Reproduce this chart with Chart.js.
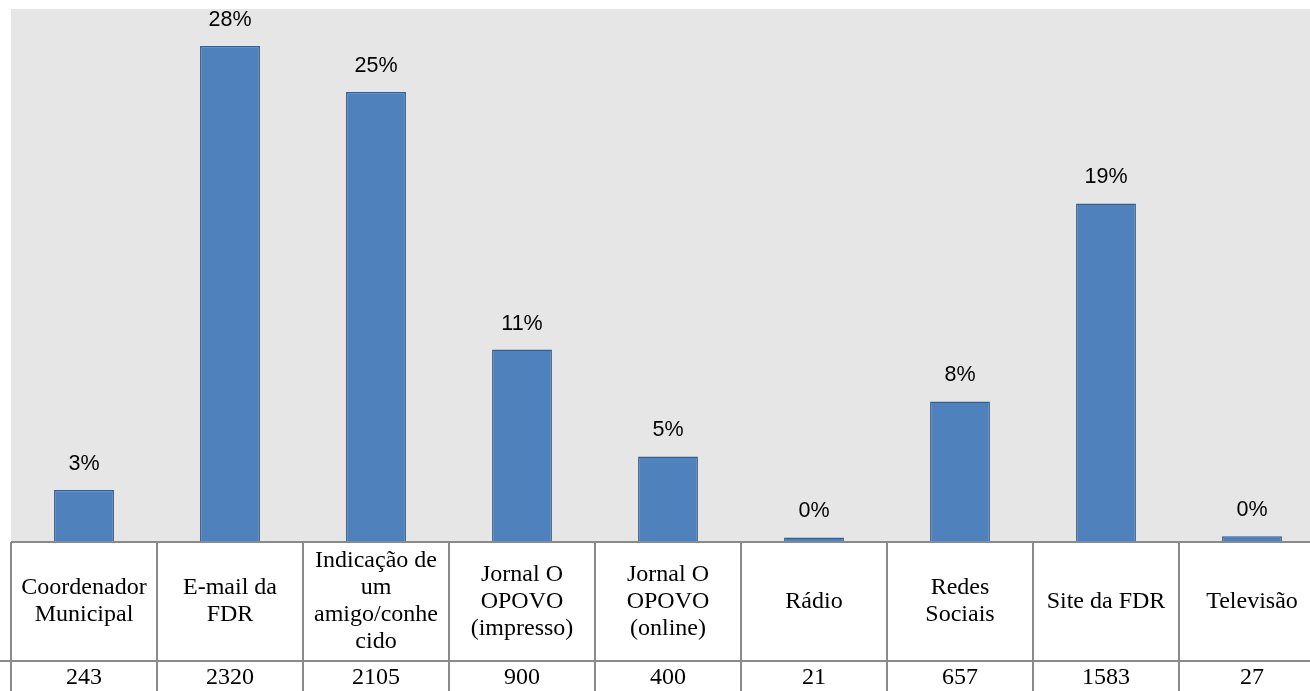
<!DOCTYPE html>
<html>
<head>
<meta charset="utf-8">
<script src="https://cdn.jsdelivr.net/npm/chart.js@4"></script>
<style>
html,body{margin:0;padding:0;background:#fff;overflow:hidden}
#wrap{position:absolute;left:0;top:0;width:1326px;height:691px}
</style>
</head>
<body>
<div id="wrap"><canvas id="chart" width="1326" height="691"></canvas></div>
<script>
// categorias (tabela de dados abaixo do gráfico)
let categorias=[
["Coordenador","Municipal"],
["E-mail da","FDR"],
["Indicação de","um","amigo/conhe","cido"],
["Jornal O","OPOVO","(impresso)"],
["Jornal O","OPOVO","(online)"],
["Rádio"],
["Redes","Sociais"],
["Site da FDR"],
["Televisão"]
]

let quantidades=[243,2320,2105,900,400,21,657,1583,27]

let total=quantidades.reduce((a,b)=>a+b,0)

let rotulos=quantidades.map(v=>Math.round(v/total*100)+"%")

let fundo={
id:"fundo",
beforeDraw(chart){
let c=chart.ctx,a=chart.chartArea
c.save()
c.fillStyle="#e6e6e6"
c.fillRect(a.left,a.top,a.right-a.left,a.bottom-a.top)
c.restore()
}
}

let rotulosBarras={
id:"rotulosBarras",
afterDatasetsDraw(chart){
let c=chart.ctx
let meta=chart.getDatasetMeta(0)
c.save()
c.fillStyle="#000"
c.font="21.5px 'Liberation Sans'"
c.textAlign="center"
c.textBaseline="middle"
meta.data.forEach((bar,i)=>{
c.fillText(rotulos[i],bar.x,bar.y-26)
})
c.restore()
}
}

let tabela={
id:"tabela",
afterDraw(chart){
let c=chart.ctx,a=chart.chartArea
let x=chart.scales.x
let n=categorias.length
let w=(a.right-a.left)/n
let topo=a.bottom
let meio=661
let fim=700
c.save()
c.strokeStyle="#8a8a8a"
c.lineWidth=2
c.beginPath()
c.moveTo(a.left,topo)
c.lineTo(a.right,topo)
c.moveTo(0,meio)
c.lineTo(a.right,meio)
for(let i=0;i<=n;i++){
let px=a.left+i*w
c.moveTo(px,topo)
c.lineTo(px,fim)
}
c.stroke()

c.fillStyle="#000"
c.font="24px 'Liberation Serif'"
c.textAlign="center"
c.textBaseline="middle"
categorias.forEach((linhas,i)=>{
let cx=x.getPixelForValue(i)
let cy=(topo+meio)/2
let lh=27
let y0=cy-(linhas.length-1)*lh/2
linhas.forEach((t,j)=>c.fillText(t,cx,y0+j*lh))
c.fillText(String(quantidades[i]),cx,678)
})
c.restore()
}
}

new Chart(document.getElementById("chart"),{
type:"bar",
data:{
labels:categorias.map(l=>l.join(" ")),
datasets:[{
data:quantidades,
backgroundColor:"#4f81bd",
borderColor:"#385d8a",
borderWidth:1.5,
barPercentage:0.41,
categoryPercentage:1
}]
},
options:{
responsive:false,
animation:false,
layout:{padding:{left:11,top:9,right:1,bottom:149}},
plugins:{legend:{display:false},tooltip:{enabled:false}},
scales:{
x:{display:false},
y:{display:false,min:0,max:2493}
}
},
plugins:[fundo,rotulosBarras,tabela]
})
</script>
</body>
</html>
